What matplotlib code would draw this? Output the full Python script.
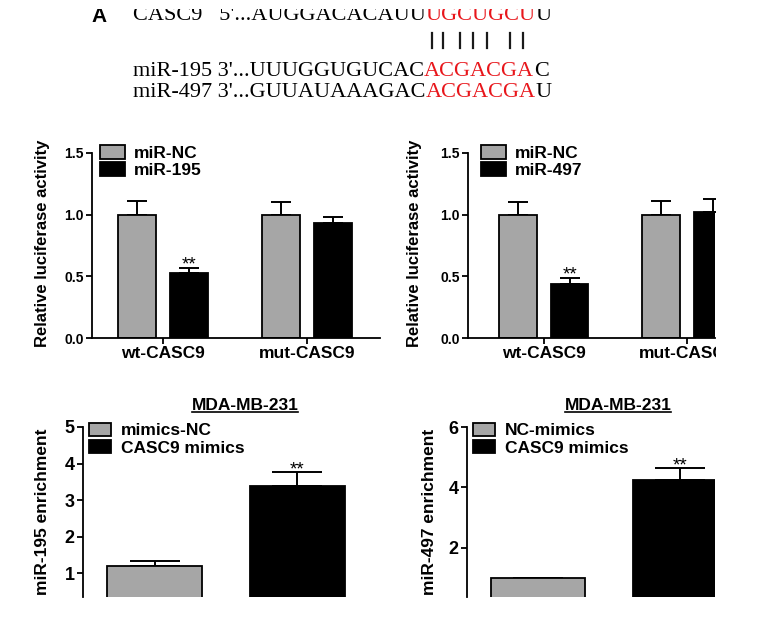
import matplotlib
matplotlib.use('Agg')
from matplotlib import pyplot as plt
from matplotlib.patches import Patch, Rectangle
from matplotlib.lines import Line2D
from matplotlib.text import Annotation
import numpy as np

plt.rcParams['font.family'] = ['Liberation Sans', 'DejaVu Sans']
plt.rcParams['font.weight'] = 'bold'
plt.rcParams['axes.linewidth'] = 1.3

# panel A - sekvence
SEQ_NAMES = ["CASC9   5'...", "miR-195 3'...", "miR-497 3'..."]
SEQ_LEFT = ["AUGGACACAUU", "UUUGGUGUCAC", "GUUAUAAAGAC"]
SEQ_SEED = ["UGCUGCU", "ACGACGA", "ACGACGA"]
SEQ_END = ["U", "C", "U"]

# luciferase
GROUPS = ['wt-CASC9', 'mut-CASC9']
NC_195 = [1.00, 1.00]
NC_195_ERR = [0.11, 0.10]
MIR_195 = [0.53, 0.935]
MIR_195_ERR = [0.04, 0.045]
NC_497 = [1.00, 1.00]
NC_497_ERR = [0.10, 0.11]
MIR_497 = [0.44, 1.02]
MIR_497_ERR = [0.05, 0.11]

# RIP / enrichment
RIP_195 = [1.20, 3.38]
RIP_195_ERR = [0.14, 0.39]
RIP_497 = [1.00, 4.24]
RIP_497_ERR = [0.0, 0.40]

SIVA = '#a6a6a6'
CRVENA = '#e8161b'
W, H = 765, 622


def fx(px):
    return px / W


def fy(py):
    return 1 - py / H


fig = plt.figure(figsize=(W / 100, H / 100), dpi=100)

# ---- panel A ----
fig.text(fx(91), fy(22), 'A', fontsize=15, fontweight='bold', va='baseline')
serif = dict(family='Liberation Serif', fontweight='normal', fontsize=16)
baselines = [20, 76, 97]
for i in range(3):
    t1 = fig.text(fx(133), fy(baselines[i]), SEQ_NAMES[i] + SEQ_LEFT[i],
                  va='baseline', **serif)
    t2 = fig.add_artist(Annotation(SEQ_SEED[i], xy=(1, 0), xycoords=t1,
                                   va='bottom', ha='left', color=CRVENA, **serif))
    fig.add_artist(Annotation(SEQ_END[i], xy=(1, 0), xycoords=t2,
                              va='bottom', ha='left', **serif))

# sparivanje baza
for bx in [432, 443, 460, 473, 487, 510, 523]:
    fig.add_artist(Line2D([fx(bx), fx(bx)], [fy(33), fy(48)], color='#1a1a1a', lw=1.6))

# gornji rub je odrezan na originalu
fig.add_artist(Rectangle((0, fy(9)), 1, 1, transform=fig.transFigure,
                         facecolor='white', edgecolor='none', zorder=10))


def luc_panel(rect, xlim, nc, nc_err, mir, mir_err, mir_name, ylab_x, leg_xy):
    ax = fig.add_axes(rect)
    x = np.arange(len(GROUPS))
    ax.errorbar(x - 0.18, nc, yerr=[np.zeros(len(nc)), nc_err], fmt='none',
                ecolor='k', elinewidth=1.4, capsize=7, capthick=1.4, zorder=1)
    ax.errorbar(x + 0.18, mir, yerr=[np.zeros(len(mir)), mir_err], fmt='none',
                ecolor='k', elinewidth=1.4, capsize=7, capthick=1.4, zorder=1)
    ax.bar(x - 0.18, nc, 0.264, color=SIVA, edgecolor='k', linewidth=1.3, zorder=2)
    ax.bar(x + 0.18, mir, 0.264, color='k', edgecolor='k', linewidth=1.3, zorder=2)
    ax.annotate('**', (x[0] + 0.18, mir[0] + mir_err[0]), xytext=(0, -1.5),
                textcoords='offset points', ha='center', va='baseline',
                fontsize=13.5, fontweight='normal')
    ax.set_xlim(*xlim)
    ax.set_ylim(0, 1.5)
    ax.set_yticks([0, 0.5, 1.0, 1.5])
    ax.set_yticklabels(['0.0', '0.5', '1.0', '1.5'], fontsize=10)
    ax.set_xticks(x)
    ax.set_xticklabels(GROUPS, fontsize=12.5)
    ax.tick_params(direction='out', length=4, width=1.3, pad=2)
    ax.spines['top'].set_visible(False)
    ax.spines['right'].set_visible(False)
    ax.patch.set_alpha(0)
    fig.text(fx(ylab_x), fy(243), 'Relative luciferase activity', rotation=90,
             ha='center', va='center', fontsize=12)
    handles = [Patch(facecolor=SIVA, edgecolor='k', linewidth=1.3),
               Patch(facecolor='k', edgecolor='k', linewidth=1.3)]
    ax.legend(handles, ['miR-NC', mir_name], loc='upper left',
              bbox_to_anchor=(fx(leg_xy[0]), fy(leg_xy[1])),
              bbox_transform=fig.transFigure, frameon=False, borderpad=0,
              borderaxespad=0, handlelength=1.45, handleheight=0.85,
              handletextpad=0.5, labelspacing=0.05, prop={'size': 12.5, 'weight': 'bold'})
    return ax


luc_panel([fx(92), fy(338), (380 - 92) / W, 185 / H], (-0.493, 1.507),
          NC_195, NC_195_ERR, MIR_195, MIR_195_ERR, 'miR-195', 43, (100, 145))
luc_panel([fx(468), fy(338), (715 - 468) / W, 185 / H], (-0.53, 1.196),
          NC_497, NC_497_ERR, MIR_497, MIR_497_ERR, 'miR-497', 414, (481, 145))


def rip_panel(rect, xlim, ylim, yticks, vals, errs, ylab, ylab_x, labels, leg_x, title_x):
    ax = fig.add_axes(rect)
    x = np.arange(2)
    ax.errorbar(x, vals, yerr=[np.zeros(2), errs], fmt='none', ecolor='k',
                elinewidth=1.4, capsize=18, capthick=1.4, zorder=1)
    ax.bar(x, vals, 0.667, color=[SIVA, 'k'], edgecolor='k', linewidth=1.3, zorder=2)
    ax.annotate('**', (x[1], vals[1] + errs[1]), xytext=(0, -1.5),
                textcoords='offset points', ha='center', va='baseline',
                fontsize=13.5, fontweight='normal')
    ax.set_xlim(*xlim)
    ax.set_ylim(*ylim)
    ax.set_yticks(yticks)
    ax.set_yticklabels([str(v) for v in yticks], fontsize=13)
    ax.set_xticks([])
    ax.tick_params(direction='out', length=4, width=1.3, pad=2)
    for s in ['top', 'right', 'bottom']:
        ax.spines[s].set_visible(False)
    ax.patch.set_alpha(0)
    fig.text(fx(ylab_x), fy(512), ylab, rotation=90, ha='center', va='center',
             fontsize=12.5)
    handles = [Patch(facecolor=SIVA, edgecolor='k', linewidth=1.3),
               Patch(facecolor='k', edgecolor='k', linewidth=1.3)]
    ax.legend(handles, labels, loc='upper left',
              bbox_to_anchor=(fx(leg_x), fy(423)), bbox_transform=fig.transFigure,
              frameon=False, borderpad=0, borderaxespad=0, handlelength=1.25,
              handleheight=0.75, handletextpad=0.6, labelspacing=0.1,
              prop={'size': 12.5, 'weight': 'bold'})
    title = fig.text(fx(title_x), fy(410), 'MDA-MB-231', ha='center', va='baseline',
                     fontsize=12.5)
    return title


titles = []
titles.append(rip_panel([fx(83), fy(597), (370 - 83) / W, 170 / H], (-0.502, 1.51),
                        (0.355, 5), [1, 2, 3, 4, 5], RIP_195, RIP_195_ERR,
                        'miR-195 enrichment', 43, ['mimics-NC', 'CASC9 mimics'], 89, 245))
titles.append(rip_panel([fx(467), fy(597), (715 - 467) / W, 170 / H], (-0.5, 1.246),
                        (0.38, 6), [2, 4, 6], RIP_497, RIP_497_ERR,
                        'miR-497 enrichment', 430, ['NC-mimics', 'CASC9 mimics'], 473, 618))

# orezano desno kao na slici
fig.add_artist(Rectangle((fx(716), 0), 1, fy(125), transform=fig.transFigure,
                         facecolor='white', edgecolor='none', zorder=10))

# podvuceni naslovi
fig.canvas.draw()
inv = fig.transFigure.inverted()
for t in titles:
    bb = t.get_window_extent()
    (x0, y0), (x1, y1) = inv.transform([(bb.x0, bb.y0), (bb.x1, bb.y1)])
    fig.add_artist(Line2D([x0, x1], [y0 + 0.001, y0 + 0.001], color='k', lw=1.2))

fig.savefig('out.png', dpi=100)
